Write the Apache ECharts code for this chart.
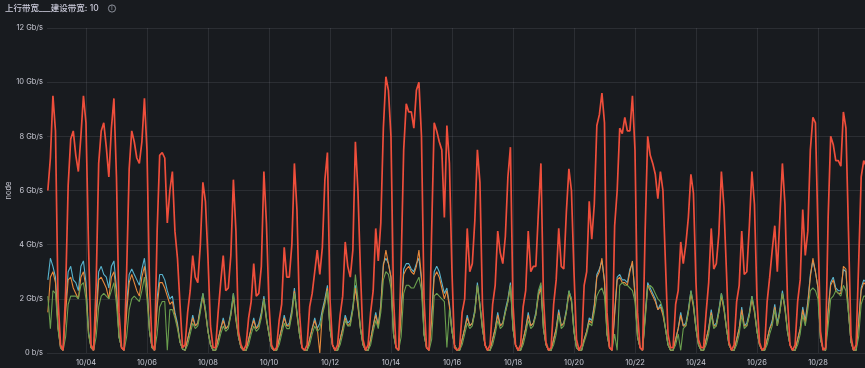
<!DOCTYPE html>
<html><head><meta charset="utf-8">
<script src="https://cdn.jsdelivr.net/npm/echarts@6/dist/echarts.min.js"></script>
<style>html,body{margin:0;padding:0;background:#181b1f;}#c{width:865px;height:368px;}</style>
</head><body><div id="c"></div>
<script>
// x values are days since 10/02 00:00; samples every 2 hours starting 10/02 18:00
const startDay = 0.75;
const stepDays = 2 / 24;
const xMin = 0.7222;   // 10/02 17:20
const xMax = 27.5417;  // 10/29 13:00
const xTickLabels = ['10/04','10/06','10/08','10/10','10/12','10/14','10/16','10/18','10/20','10/22','10/24','10/26','10/28'];
const yTickLabels = ['0 b/s','2 Gb/s','4 Gb/s','6 Gb/s','8 Gb/s','10 Gb/s','12 Gb/s'];
const titleText = '上行带宽___建设带宽: 10';

const red = [
6.0,7.2,9.5,
8.2,2.0,0.3,0.1,2.3,6.2,7.9,8.2,7.3,6.7,8.0,9.5,
8.5,4.0,0.3,0.1,2.5,7.0,8.2,8.5,7.6,6.5,8.3,9.4,
6.5,1.5,0.2,0.1,3.0,6.8,8.2,7.8,7.2,7.0,7.8,9.4,
7.5,2.5,0.3,0.1,4.5,7.3,7.4,7.2,4.8,6.0,6.7,4.5,
3.5,1.8,0.2,0.3,1.5,2.3,3.6,2.8,2.6,4.0,6.3,5.6,
3.5,1.0,0.2,0.2,1.5,2.6,3.6,2.3,2.4,3.6,6.4,4.5,
0.8,0.3,0.1,0.3,1.3,1.9,3.3,2.1,2.2,3.2,6.7,4.8,
1.8,0.3,0.1,0.2,1.2,1.8,3.9,2.8,2.8,4.0,7.0,5.3,
1.5,0.2,0.1,0.3,1.7,2.2,3.0,3.8,2.9,3.9,6.4,7.4,
2.0,0.3,0.1,0.3,1.4,2.1,4.1,3.2,2.8,3.8,7.8,6.0,
3.0,0.5,0.1,0.3,1.5,2.3,4.6,3.4,4.8,8.3,10.2,9.7,
8.0,2.0,0.2,0.1,3.3,7.5,9.2,8.9,8.9,8.3,9.7,10.0,
8.0,2.0,0.2,0.1,4.5,8.5,8.2,7.8,7.5,5.0,8.4,7.0,
3.0,0.2,0.1,0.2,1.5,2.0,4.6,3.0,3.3,4.9,7.5,6.3,
1.8,0.3,0.1,0.3,1.8,2.5,4.5,3.7,3.3,4.3,6.5,7.6,
1.8,0.3,0.1,0.3,1.7,2.3,4.5,3.0,3.2,3.2,5.2,7.0,
2.0,0.4,0.1,0.2,1.8,2.7,4.6,3.2,3.1,5.2,6.8,6.0,
3.0,0.5,0.1,0.3,2.5,3.0,5.6,4.2,5.5,8.4,8.8,9.6,
8.5,1.5,0.2,0.1,4.7,6.0,8.3,8.1,8.7,8.2,8.2,9.5,
7.5,1.5,0.2,0.1,4.5,8.0,7.3,7.0,6.6,5.7,6.7,6.0,
3.3,0.7,0.2,0.2,1.8,2.3,4.1,3.3,4.0,5.0,6.6,5.9,
2.6,0.5,0.2,0.2,1.5,2.6,4.6,3.1,3.3,4.4,6.7,5.4,
3.0,0.4,0.1,0.3,1.9,2.5,4.5,2.9,3.0,4.7,6.7,5.5,
2.0,0.4,0.1,0.2,1.9,2.8,3.8,4.7,3.0,5.0,7.0,5.5,
2.0,0.3,0.1,0.3,1.9,2.7,5.3,3.6,4.5,7.5,8.7,8.5,
4.5,0.8,0.1,0.2,5.0,8.0,7.7,7.1,7.1,6.9,8.9,8.3,
4.5,0.6,0.1,0.3,3.3,6.5,7.1,6.9
];

const blue = [
2.7,3.5,3.2,
2.8,1.0,0.2,0.1,1.8,3.0,3.2,2.7,2.6,2.3,3.2,3.4,
2.6,0.8,0.2,0.1,1.5,3.0,3.2,2.9,2.8,2.4,3.2,3.4,
2.4,0.6,0.2,0.1,1.8,2.9,3.1,2.9,2.7,2.5,3.1,3.5,
2.6,0.8,0.2,0.1,2.0,2.9,2.9,2.7,2.3,2.0,2.1,1.5,
1.1,0.4,0.15,0.1,0.5,0.9,1.4,1.0,1.1,1.7,2.2,1.6,
0.8,0.3,0.1,0.1,0.5,0.9,1.3,0.9,1.0,1.5,2.2,1.3,
0.6,0.2,0.1,0.1,0.5,0.9,1.3,0.9,1.1,1.5,2.1,1.3,
0.7,0.2,0.1,0.1,0.5,0.9,1.4,1.0,1.1,1.6,2.4,1.5,
0.7,0.2,0.1,0.1,0.5,0.9,1.3,0.9,1.1,1.6,2.0,2.5,
0.9,0.3,0.1,0.1,0.5,0.9,1.4,1.1,1.2,1.7,2.5,1.8,
0.9,0.3,0.1,0.1,0.5,1.0,1.5,1.0,1.8,3.3,3.5,3.3,
2.8,0.7,0.2,0.1,1.6,3.1,3.3,3.3,3.1,3.0,3.3,3.5,
2.7,0.7,0.2,0.1,1.4,3.0,3.2,3.0,2.6,2.2,2.4,1.8,
0.8,0.3,0.1,0.1,0.5,0.9,1.4,1.0,1.1,1.6,2.6,1.8,
0.9,0.3,0.1,0.1,0.5,0.9,1.5,1.0,1.1,1.6,2.0,2.6,
0.9,0.3,0.1,0.1,0.5,0.9,1.5,1.0,1.1,1.5,2.2,2.5,
0.9,0.3,0.1,0.1,0.5,0.9,1.6,1.0,1.1,1.6,2.3,2.0,
0.8,0.2,0.1,0.1,0.5,0.8,1.3,1.2,1.8,2.9,3.1,3.4,
2.7,0.7,0.2,0.1,1.5,2.8,2.9,2.7,2.7,2.6,3.1,3.3,
2.2,0.6,0.2,0.1,1.4,2.6,2.4,2.2,2.0,1.6,1.8,1.5,
0.9,0.3,0.1,0.1,0.5,0.9,1.5,1.0,1.1,1.6,2.3,1.8,
0.9,0.3,0.1,0.1,0.5,0.9,1.6,1.0,1.1,1.6,2.2,1.7,
0.9,0.3,0.1,0.1,0.5,0.9,1.7,1.0,1.1,1.5,2.1,1.6,
0.8,0.3,0.1,0.1,0.5,0.9,1.2,1.8,1.1,1.6,2.3,1.7,
0.8,0.3,0.1,0.1,0.5,0.9,1.7,1.2,1.9,2.9,3.4,3.0,
2.4,0.5,0.15,0.1,1.6,2.6,2.8,2.4,2.3,2.3,3.1,3.0,
1.5,0.4,0.1,0.1,1.2,2.4,2.7,2.6
];

const orange = [
1.5,2.8,3.0,
2.6,0.9,0.2,0.1,1.5,2.7,2.8,2.4,2.2,2.0,2.8,3.0,
2.4,0.7,0.2,0.1,1.2,2.7,2.8,2.6,2.4,2.0,2.8,3.0,
2.2,0.6,0.2,0.1,1.5,2.6,2.9,2.6,2.3,2.1,2.8,3.2,
2.4,0.8,0.2,0.1,1.7,2.6,2.6,2.4,2.1,1.8,1.9,1.4,
1.0,0.4,0.15,0.1,0.5,0.9,1.3,1.0,1.1,1.6,2.1,1.5,
0.8,0.3,0.1,0.1,0.5,0.9,1.2,0.9,1.0,1.4,2.1,1.2,
0.6,0.2,0.1,0.1,0.5,0.9,1.2,0.9,1.0,1.4,2.0,1.2,
0.7,0.2,0.1,0.1,0.5,0.9,1.3,1.0,1.0,1.5,2.3,1.4,
0.7,0.2,0.1,0.1,0.5,0.9,1.2,0.9,0.0,1.5,1.9,2.4,
0.9,0.3,0.1,0.1,0.5,0.9,1.3,1.0,1.1,1.6,2.4,1.7,
0.9,0.3,0.1,0.1,0.5,1.0,1.4,1.0,1.7,3.2,3.8,3.3,
2.8,0.7,0.2,0.1,1.4,2.9,3.1,3.2,3.0,2.9,3.2,3.8,
2.8,0.7,0.2,0.1,1.2,2.8,3.0,2.8,2.4,2.0,2.3,1.7,
0.8,0.3,0.1,0.1,0.5,0.9,1.3,1.0,1.1,1.5,2.5,1.7,
0.9,0.3,0.1,0.1,0.5,0.9,1.4,1.0,1.1,1.5,1.9,2.5,
0.9,0.3,0.1,0.1,0.5,0.9,1.4,1.0,1.1,1.4,2.1,2.4,
0.9,0.3,0.1,0.1,0.5,0.9,1.5,1.0,1.1,1.5,2.2,1.9,
0.8,0.2,0.1,0.1,0.5,0.8,1.2,1.1,1.7,2.8,3.0,3.5,
2.6,0.7,0.2,0.1,1.4,2.7,2.8,2.6,2.6,2.5,3.0,3.4,
2.1,0.6,0.2,0.1,1.3,2.5,2.3,2.1,1.9,1.6,1.7,1.4,
0.9,0.3,0.1,0.1,0.5,0.9,1.4,1.0,1.0,1.5,2.2,1.7,
0.9,0.3,0.1,0.1,0.5,0.9,1.5,1.0,1.0,1.5,2.1,1.6,
0.9,0.3,0.1,0.1,0.5,0.9,1.6,1.0,1.0,1.4,2.0,1.5,
0.8,0.3,0.1,0.1,0.5,0.9,1.1,1.7,1.0,1.5,2.2,1.6,
0.8,0.3,0.1,0.1,0.5,0.9,1.6,1.1,1.8,2.8,3.5,3.0,
2.4,0.5,0.15,0.1,1.5,2.5,2.7,2.3,2.2,2.2,3.2,3.1,
1.5,0.4,0.1,0.1,1.1,2.3,2.6,2.5
];

const green = [
2.1,0.9,2.3,
2.2,0.9,0.2,0.1,0.6,1.8,2.1,2.1,2.1,2.0,2.5,2.6,
2.0,0.7,0.2,0.1,0.6,1.7,2.1,2.2,2.1,2.0,2.3,2.6,
1.8,0.6,0.2,0.1,0.6,1.6,2.0,2.1,2.0,1.9,2.3,2.8,
2.0,0.8,0.2,0.1,0.7,1.7,1.9,1.9,0.1,1.6,1.6,1.3,
0.9,0.4,0.15,0.1,0.3,0.7,1.1,0.9,1.0,1.5,2.2,1.6,
0.8,0.3,0.1,0.1,0.3,0.7,1.0,0.8,0.9,1.4,2.2,1.3,
0.6,0.2,0.1,0.1,0.3,0.7,1.0,0.8,0.9,1.3,2.0,1.3,
0.7,0.2,0.1,0.1,0.3,0.7,1.1,0.9,0.9,1.4,2.2,1.5,
0.7,0.2,0.1,0.1,0.3,0.7,1.0,0.8,0.9,1.4,1.8,2.3,
0.9,0.3,0.1,0.1,0.3,0.7,1.2,1.0,1.0,1.6,2.9,2.0,
0.9,0.3,0.1,0.1,0.3,0.8,1.2,0.9,1.5,2.7,3.0,2.9,
2.4,0.7,0.2,0.1,0.6,2.2,2.5,2.5,2.4,2.4,2.6,2.8,
2.3,0.7,0.2,0.1,0.5,2.1,2.2,2.1,2.0,1.9,0.2,1.6,
0.8,0.3,0.1,0.1,0.3,0.7,1.1,0.9,1.0,1.5,2.5,1.8,
0.9,0.3,0.1,0.1,0.3,0.7,1.2,0.9,1.0,1.5,1.9,2.5,
0.9,0.3,0.1,0.1,0.3,0.7,1.2,0.9,1.0,1.4,2.3,2.6,
0.9,0.3,0.1,0.1,0.3,0.7,1.4,0.9,1.0,1.5,2.3,2.0,
0.8,0.2,0.1,0.1,0.4,0.7,1.1,1.0,1.5,2.1,2.3,2.4,
2.1,0.7,0.2,0.1,0.7,0.1,2.5,2.6,2.5,2.5,2.4,2.3,
1.9,0.6,0.2,0.1,1.2,2.4,2.5,2.4,2.2,2.0,1.9,1.6,
0.9,0.3,0.1,0.1,0.3,0.7,0.1,0.9,1.0,1.5,2.3,1.8,
0.9,0.3,0.1,0.1,0.3,0.7,1.4,0.9,1.0,1.5,2.2,1.7,
0.9,0.3,0.1,0.1,0.3,0.7,1.4,0.9,1.0,1.4,2.1,1.6,
0.8,0.3,0.1,0.1,0.3,0.7,1.0,1.6,1.0,1.5,2.2,1.7,
0.8,0.3,0.1,0.1,0.3,0.7,1.4,1.0,1.6,2.3,2.4,2.3,
2.0,0.5,0.15,0.1,1.0,2.0,2.1,2.3,2.2,2.1,2.5,2.3,
1.5,0.4,0.1,0.1,0.6,1.8,2.1,2.1
];

const seriesDefs = [
  { name: 'blue', data: blue, color: '#58B4CE', width: 1.1 },
  { name: 'orange', data: orange, color: '#E8893C', width: 1.1 },
  { name: 'green', data: green, color: '#6A9E4E', width: 1.1 },
  { name: 'red', data: red, color: '#EE4E3B', width: 1.7 }
];

function toPairs(arr) { return arr.map((v, i) => [startDay + i * stepDays, v]); }

const txt = '#c9cad4';
const font = 'Inter, "Noto Sans CJK SC", sans-serif';
const chart = echarts.init(document.getElementById('c'), null, { renderer: 'canvas' });
chart.setOption({
  backgroundColor: '#181b1f',
  animation: false,
  title: {
    text: titleText, left: 5, top: 4, padding: 0,
    textStyle: { color: '#ccccdc', fontSize: 8.5, fontWeight: 500, fontFamily: font }
  },
  graphic: [
    { type: 'circle', shape: { cx: 112, cy: 8.5, r: 3.6 }, style: { fill: 'none', stroke: '#a7acb8', lineWidth: 0.8 } },
    { type: 'text', x: 112, y: 8.7, style: { text: 'i', fill: '#a7acb8', fontSize: 5.5, fontFamily: font, align: 'center', verticalAlign: 'middle' } }
  ],
  grid: { left: 47, right: 0, top: 28, bottom: 15, containLabel: false, outerBoundsMode: 'none' },
  xAxis: {
    type: 'value', min: xMin, max: xMax, minInterval: 2, maxInterval: 2,
    axisLine: { show: false }, axisTick: { show: false },
    axisLabel: {
      color: txt, fontSize: 7.5, fontFamily: font, margin: 6,
      showMinLabel: false, showMaxLabel: false,
      formatter: v => { const k = Math.round((v - 2) / 2); return (Math.abs(v - Math.round(v)) < 1e-6 && k >= 0 && k < xTickLabels.length) ? xTickLabels[k] : ''; }
    },
    splitLine: { show: true, showMinLine: false, showMaxLine: false, lineStyle: { color: 'rgba(204,204,220,0.11)', width: 1 } }
  },
  yAxis: {
    type: 'value', min: 0, max: 12, interval: 2,
    name: 'node', nameLocation: 'middle', nameGap: 35, nameRotate: 90, nameMoveOverlap: false,
    nameTextStyle: { color: txt, fontSize: 7.5, fontFamily: font },
    axisLine: { show: false }, axisTick: { show: false },
    axisLabel: { color: txt, fontSize: 7.5, fontFamily: font, margin: 4, formatter: v => yTickLabels[Math.round(v / 2)] },
    splitLine: { lineStyle: { color: 'rgba(204,204,220,0.11)', width: 1 } }
  },
  series: seriesDefs.map(s => ({
    name: s.name, type: 'line', data: toPairs(s.data), showSymbol: false, symbol: 'none',
    lineStyle: { color: s.color, width: s.width }, itemStyle: { color: s.color },
    clip: true, silent: true
  }))
});
</script></body></html>
